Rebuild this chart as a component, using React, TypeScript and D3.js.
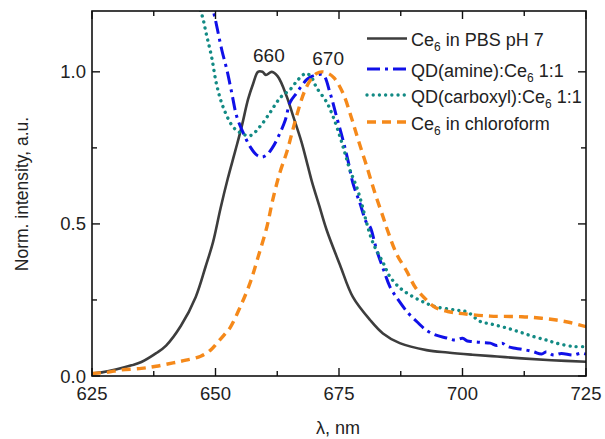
import React from "react";
import * as d3 from "d3";

// Emission spectra, normalised intensity vs wavelength (nm)
const pbsWl = [625, 627, 630, 633, 635, 638, 640, 643, 646, 648, 649.5, 651, 652.5, 654, 655.3, 656.6, 657.6, 658.6, 659.5, 660.2, 661.4, 662.6, 664.4, 665.7, 667.4, 668.7, 669.5, 671, 672.5, 675.2, 677.8, 681.3, 683.9, 687.3, 692.7, 697, 702, 707, 712, 718, 725];
const pbsInt = [0.008, 0.012, 0.022, 0.035, 0.046, 0.075, 0.1, 0.165, 0.26, 0.36, 0.44, 0.55, 0.65, 0.74, 0.82, 0.91, 0.96, 1.0, 1.0, 0.99, 1.0, 0.985, 0.92, 0.855, 0.77, 0.69, 0.64, 0.56, 0.48, 0.365, 0.26, 0.184, 0.14, 0.108, 0.085, 0.077, 0.07, 0.064, 0.058, 0.052, 0.047];

const amineWl = [648.8, 649.9, 651.3, 652.3, 653.3, 654.3, 655.6, 657, 658.3, 659.4, 660.4, 661.5, 662.4, 664.1, 665.1, 666.4, 667.5, 668.5, 669.5, 670.5, 671.8, 673.2, 674.5, 675.8, 676.8, 677.8, 679.2, 680.6, 681.3, 682.6, 684, 685.3, 687, 689, 691, 692.7, 694.5, 696.8, 698.5, 700, 701, 702, 704, 705.6, 707, 708, 709, 710.3, 712, 714.3, 716, 717, 718.4, 720, 722.4, 724, 725];
const amineInt = [1.25, 1.177, 1.07, 1.007, 0.93, 0.853, 0.8, 0.754, 0.727, 0.72, 0.727, 0.75, 0.776, 0.84, 0.9, 0.93, 0.955, 0.975, 0.985, 0.99, 0.99, 0.93, 0.853, 0.776, 0.71, 0.635, 0.57, 0.503, 0.49, 0.415, 0.35, 0.294, 0.25, 0.207, 0.175, 0.15, 0.135, 0.125, 0.118, 0.124, 0.115, 0.113, 0.11, 0.108, 0.1, 0.108, 0.098, 0.092, 0.088, 0.08, 0.072, 0.08, 0.069, 0.074, 0.069, 0.075, 0.072];

const carboxylWl = [645.5, 647.2, 648.2, 649.2, 650.2, 651.5, 653.5, 655, 657, 659, 661, 662.4, 663.4, 665, 666.5, 667.7, 668.5, 669.5, 670.4, 672.5, 673.8, 675.2, 676.2, 677.2, 678.6, 679.7, 680.6, 681.9, 684, 685.3, 687.3, 689.4, 692, 694.5, 698.5, 701, 703.5, 706, 708.9, 711.5, 714.3, 717, 719, 722.4, 725];
const carboxylInt = [1.26, 1.19, 1.12, 1.05, 0.96, 0.886, 0.82, 0.8, 0.79, 0.82, 0.865, 0.9, 0.92, 0.94, 0.97, 0.99, 0.995, 0.98, 0.95, 0.9, 0.853, 0.787, 0.733, 0.678, 0.62, 0.56, 0.503, 0.437, 0.37, 0.327, 0.29, 0.266, 0.244, 0.228, 0.217, 0.21, 0.18, 0.17, 0.158, 0.145, 0.13, 0.118, 0.108, 0.097, 0.097];

const chloroWl = [625, 628, 631, 635, 638, 641.4, 644, 647, 649, 650.3, 652, 653, 655, 657, 658.6, 660.4, 661.6, 663, 664.5, 665.5, 666.5, 668, 669.3, 670.5, 671.5, 672.8, 674, 675.8, 677.5, 678.9, 680.6, 682.3, 683.9, 684.8, 686.7, 688.7, 690.5, 692.7, 694.5, 697, 700, 705.6, 712, 716, 719, 722, 725];
const chloroInt = [0.008, 0.012, 0.02, 0.025, 0.032, 0.043, 0.052, 0.065, 0.085, 0.108, 0.14, 0.16, 0.227, 0.306, 0.39, 0.49, 0.58, 0.667, 0.74, 0.8, 0.86, 0.935, 0.975, 0.995, 1.0, 0.995, 0.98, 0.93, 0.85, 0.776, 0.69, 0.6, 0.524, 0.48, 0.4, 0.345, 0.29, 0.25, 0.225, 0.212, 0.205, 0.197, 0.195, 0.19, 0.184, 0.175, 0.162];

const xMajorTicks = [625, 650, 675, 700, 725];
const xMinorTicks = [637.5, 662.5, 687.5, 712.5];
const yMajorTicks = [0, 0.5, 1.0];
const yMinorTicks = [0.25, 0.75];

// Peak maxima annotations
const peakLabels = [
  { text: "660", wl: 660.8, value: 1.0, dy: -10 },
  { text: "670", wl: 672.8, value: 1.0, dy: -7 },
];

type Series = {
  name: string;
  sub: string;
  rest: string;
  wl: number[];
  val: number[];
  color: string;
  width: number;
  dash?: string;
  cap: "butt" | "round";
};

const series: Series[] = [
  { name: "Ce", sub: "6", rest: " in PBS pH 7", wl: pbsWl, val: pbsInt, color: "#3d3d3d", width: 2.6, cap: "butt" },
  { name: "QD(amine):Ce", sub: "6", rest: " 1:1", wl: amineWl, val: amineInt, color: "#1010e8", width: 3, dash: "13 5 3 5", cap: "butt" },
  { name: "QD(carboxyl):Ce", sub: "6", rest: " 1:1", wl: carboxylWl, val: carboxylInt, color: "#128a84", width: 3.4, dash: "0.01 6.2", cap: "round" },
  { name: "Ce", sub: "6", rest: " in chloroform", wl: chloroWl, val: chloroInt, color: "#f5891a", width: 3.4, dash: "9 6", cap: "butt" },
];

const W = 605;
const H = 439;
const left = 92;
const right = 586;
const top = 11;
const bottom = 376;
const FONT = "'Liberation Sans', Arial, sans-serif";
const legendRowY = [38.5, 69, 95, 122];

export default function App() {
  const x = d3.scaleLinear().domain([625, 725]).range([left, right]);
  const y = d3.scaleLinear().domain([0, 1.2]).range([bottom, top]);

  const line = d3
    .line<[number, number]>()
    .x((d) => x(d[0]))
    .y((d) => y(d[1]))
    .curve(d3.curveCatmullRom.alpha(0.5));

  const legendX0 = 367;
  const legendX1 = 407;

  return (
    <svg
      width={W}
      height={H}
      style={{ position: "absolute", left: 0, top: 0, background: "#fff" }}
      fontFamily={FONT}
    >
      <defs>
        <clipPath id="plot-clip">
          <rect x={left} y={top} width={right - left} height={bottom - top} />
        </clipPath>
      </defs>

      {/* spectra */}
      <g clipPath="url(#plot-clip)">
        {series.map((s, i) => (
          <path
            key={i}
            d={line(s.wl.map((w, k) => [w, s.val[k]] as [number, number])) || ""}
            fill="none"
            stroke={s.color}
            strokeWidth={s.width}
            strokeDasharray={s.dash}
            strokeLinecap={s.cap}
            strokeLinejoin="round"
          />
        ))}
      </g>

      {/* frame */}
      <rect x={left} y={top} width={right - left} height={bottom - top} fill="none" stroke="#111" strokeWidth={1.6} />

      {/* ticks, all pointing inward */}
      <g stroke="#111" strokeWidth={1.4}>
        {xMajorTicks.map((t) => (
          <g key={"xM" + t}>
            <line x1={x(t)} x2={x(t)} y1={bottom} y2={bottom - 8} />
            <line x1={x(t)} x2={x(t)} y1={top} y2={top + 8} />
          </g>
        ))}
        {xMinorTicks.map((t) => (
          <g key={"xm" + t}>
            <line x1={x(t)} x2={x(t)} y1={bottom} y2={bottom - 5} />
            <line x1={x(t)} x2={x(t)} y1={top} y2={top + 5} />
          </g>
        ))}
        {yMajorTicks.map((t) => (
          <g key={"yM" + t}>
            <line x1={left} x2={left + 8} y1={y(t)} y2={y(t)} />
            <line x1={right} x2={right - 8} y1={y(t)} y2={y(t)} />
          </g>
        ))}
        {yMinorTicks.map((t) => (
          <g key={"ym" + t}>
            <line x1={left} x2={left + 5} y1={y(t)} y2={y(t)} />
            <line x1={right} x2={right - 5} y1={y(t)} y2={y(t)} />
          </g>
        ))}
      </g>

      {/* tick labels */}
      <g fontSize={18.5} fill="#222">
        {xMajorTicks.map((t) => (
          <text key={"xl" + t} x={x(t)} y={bottom + 24} textAnchor="middle">
            {t}
          </text>
        ))}
        {yMajorTicks.map((t) => (
          <text key={"yl" + t} x={left - 6} y={y(t) + 6.5} textAnchor="end">
            {d3.format(".1f")(t)}
          </text>
        ))}
      </g>

      {/* axis titles */}
      <text x={(left + right) / 2 - 1} y={H - 5} textAnchor="middle" fontSize={18} fill="#222">
        λ, nm
      </text>
      <text
        transform={`translate(28, 194) rotate(-90)`}
        textAnchor="middle"
        fontSize={17.5}
        fill="#222"
      >
        Norm. intensity, a.u.
      </text>

      {/* peak annotations */}
      {peakLabels.map((p) => (
        <text key={p.text} x={x(p.wl)} y={y(p.value) + p.dy} textAnchor="middle" fontSize={19} fill="#222">
          {p.text}
        </text>
      ))}

      {/* legend */}
      {series.map((s, i) => {
        const ly = legendRowY[i];
        return (
          <g key={"lg" + i}>
            <line
              x1={legendX0}
              x2={legendX1}
              y1={ly}
              y2={ly}
              stroke={s.color}
              strokeWidth={s.width}
              strokeDasharray={s.dash}
              strokeLinecap={s.cap}
            />
            <text x={legendX1 + 4} y={ly + 7.5} fontSize={18} fill="#222">
              {s.name}
              <tspan fontSize={12} dy={5}>
                {s.sub}
              </tspan>
              <tspan dy={-5}>{s.rest}</tspan>
            </text>
          </g>
        );
      })}
    </svg>
  );
}
